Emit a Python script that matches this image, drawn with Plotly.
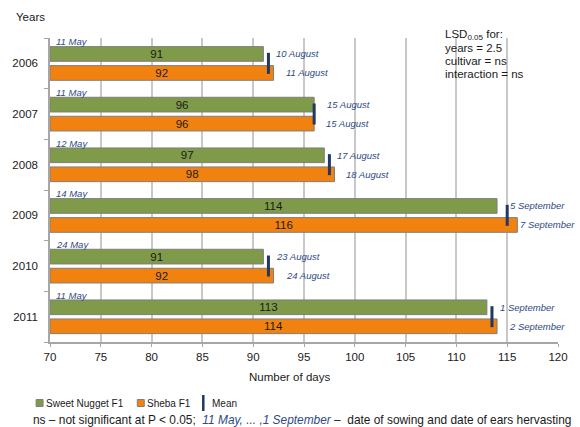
import plotly.graph_objects as go

years = ["2006", "2007", "2008", "2009", "2010", "2011"]
sweet_nugget = [91, 96, 97, 114, 91, 113]
sheba = [92, 96, 98, 116, 92, 114]
sowing_dates = ["11 May", "11 May", "12 May", "14 May", "24 May", "11 May"]
harvest_sweet = ["10 August", "15 August", "17 August", "5 September", "23 August", "1 September"]
harvest_sheba = ["11 August", "15 August", "18 August", "7 September", "24 August", "2 September"]
x_ticks = [70, 75, 80, 85, 90, 95, 100, 105, 110, 115, 120]

GREEN = "#7F9A48"
ORANGE = "#F2820F"
BORDER = "#7F7F7F"
BLUE_TXT = "#2E4A86"
MEAN_C = "#1F3864"
FONT = "Liberation Sans, Arial, sans-serif"
BASE = 70
X0, X1 = 70, 120

W, H = 580, 427
ML, MR, MT, MB = 50, 18, 38, 85
PW, PH = W - ML - MR, H - MT - MB


def px2x(px):
    return (px - ML) / PW


def px2y(py):
    return (H - MB - py) / PH


def val2px(v):
    return ML + (v - X0) / (X1 - X0) * PW


def label_shift(v, text, pref):
    est_w = len(text) * 5.0
    room = (W - 3) - est_w - val2px(v)
    return max(1, min(pref, room))


idx = list(range(len(years)))
means = [(a + b) / 2 for a, b in zip(sweet_nugget, sheba)]

bar_font = dict(family=FONT, size=11.5, color="#1A1A1A")
fig = go.Figure()
fig.add_trace(go.Bar(
    y=idx, x=[v - BASE for v in sweet_nugget], base=BASE, orientation="h",
    width=0.29, offset=-0.33,
    marker=dict(color=GREEN, line=dict(color=BORDER, width=1)),
    text=[str(v) for v in sweet_nugget], textposition="inside",
    insidetextanchor="middle", textangle=0, constraintext="none",
    textfont=bar_font, insidetextfont=bar_font,
    name="Sweet Nugget F1", showlegend=False,
))
fig.add_trace(go.Bar(
    y=idx, x=[v - BASE for v in sheba], base=BASE, orientation="h",
    width=0.29, offset=0.045,
    marker=dict(color=ORANGE, line=dict(color=BORDER, width=1)),
    text=[str(v) for v in sheba], textposition="inside",
    insidetextanchor="middle", textangle=0, constraintext="none",
    textfont=bar_font, insidetextfont=bar_font,
    name="Sheba F1", showlegend=False,
))
fig.add_trace(go.Scatter(
    y=idx, x=means, mode="markers",
    marker=dict(symbol="line-ns", size=15, line=dict(color=MEAN_C, width=3)),
    name="Mean", showlegend=False,
))

date_font = dict(family=FONT, size=9.5, color=BLUE_TXT, style="italic")
ann = []
for i in idx:
    ann.append(dict(x=BASE, y=i - 0.427, xref="x", yref="y", text=sowing_dates[i],
                    xanchor="left", yanchor="middle", xshift=4, showarrow=False, font=date_font))
    ann.append(dict(x=sweet_nugget[i], y=i - 0.185, xref="x", yref="y", text=harvest_sweet[i],
                    xanchor="left", yanchor="middle",
                    xshift=label_shift(sweet_nugget[i], harvest_sweet[i], 11),
                    showarrow=False, font=date_font))
    ann.append(dict(x=sheba[i], y=i + 0.19, xref="x", yref="y", text=harvest_sheba[i],
                    xanchor="left", yanchor="middle",
                    xshift=label_shift(sheba[i], harvest_sheba[i], 10),
                    showarrow=False, font=date_font))

lsd_lines = ["LSD<sub>0.05</sub> for:", "years = 2.5", "cultivar = ns", "interaction = ns"]
for k, t in enumerate(lsd_lines):
    ann.append(dict(x=px2x(446), y=px2y(35 + 13 * k), xref="paper", yref="paper", text=t,
                    xanchor="left", yanchor="middle", showarrow=False,
                    font=dict(family=FONT, size=11.5, color="#1A1A1A")))

ann.append(dict(x=px2x(14), y=px2y(17), xref="paper", yref="paper", text="Years",
                xanchor="left", yanchor="middle", showarrow=False,
                font=dict(family=FONT, size=11.5, color="#1A1A1A")))
ann.append(dict(x=px2x(291), y=px2y(377), xref="paper", yref="paper", text="Number of days",
                xanchor="center", yanchor="middle", showarrow=False,
                font=dict(family=FONT, size=11.5, color="#1A1A1A")))

# legend
legend_items = [("Sweet Nugget F1", 44), ("Sheba F1", 146), ("Mean", 211)]
for t, xp in legend_items:
    ann.append(dict(x=px2x(xp), y=px2y(403), xref="paper", yref="paper", text=t,
                    xanchor="left", yanchor="middle", showarrow=False,
                    font=dict(family=FONT, size=10, color="#1A1A1A")))
ann.append(dict(x=px2x(31), y=px2y(420), xref="paper", yref="paper",
                text=("ns – not significant at P < 0.05;  <span style='color:%s'><i>11 May, ... ,1 September</i></span> –  "
                      "date of sowing and date of ears hervasting") % BLUE_TXT,
                xanchor="left", yanchor="middle", showarrow=False,
                font=dict(family=FONT, size=11.9, color="#1A1A1A")))

shapes = [
    dict(type="rect", xref="paper", yref="paper", x0=px2x(36), x1=px2x(43), y0=px2y(406.5), y1=px2y(399.5),
         fillcolor=GREEN, line=dict(color=BORDER, width=1)),
    dict(type="rect", xref="paper", yref="paper", x0=px2x(138), x1=px2x(145), y0=px2y(406.5), y1=px2y(399.5),
         fillcolor=ORANGE, line=dict(color=BORDER, width=1)),
    dict(type="line", xref="paper", yref="paper", x0=px2x(204.5), x1=px2x(204.5), y0=px2y(411), y1=px2y(395),
         line=dict(color=MEAN_C, width=2.5)),
    # white area behind the LSD note, hiding gridlines there
    dict(type="rect", xref="paper", yref="paper", x0=px2x(430), x1=1.02, y0=px2y(90), y1=1.0,
         fillcolor="white", line=dict(width=0), layer="between"),
]

fig.update_layout(
    width=W, height=H,
    margin=dict(l=ML, r=MR, t=MT, b=MB),
    paper_bgcolor="white", plot_bgcolor="white",
    barmode="overlay",
    showlegend=False,
    font=dict(family=FONT, size=11.5, color="#1A1A1A"),
    annotations=ann, shapes=shapes,
    xaxis=dict(range=[X0, X1], tickvals=x_ticks, showgrid=True, gridcolor="#C8C8C8", gridwidth=1.5,
               showline=True, linecolor="#A6A6A6", linewidth=1.5, ticks="outside", ticklen=3,
               tickcolor="#A6A6A6", zeroline=False, tickfont=dict(size=11.5), fixedrange=True),
    yaxis=dict(range=[5.5, -0.5], tickvals=idx, ticktext=years, showgrid=False,
               showline=True, linecolor="#A6A6A6", linewidth=1.5, ticks="", zeroline=False,
               tickfont=dict(size=11.5), ticklabelstandoff=8,
               minor=dict(tickvals=[-0.5, 0.5, 1.5, 2.5, 3.5, 4.5, 5.5], ticks="outside", ticklen=4,
                          tickcolor="#A6A6A6", showgrid=False)),
)

fig.write_html("out.html")
